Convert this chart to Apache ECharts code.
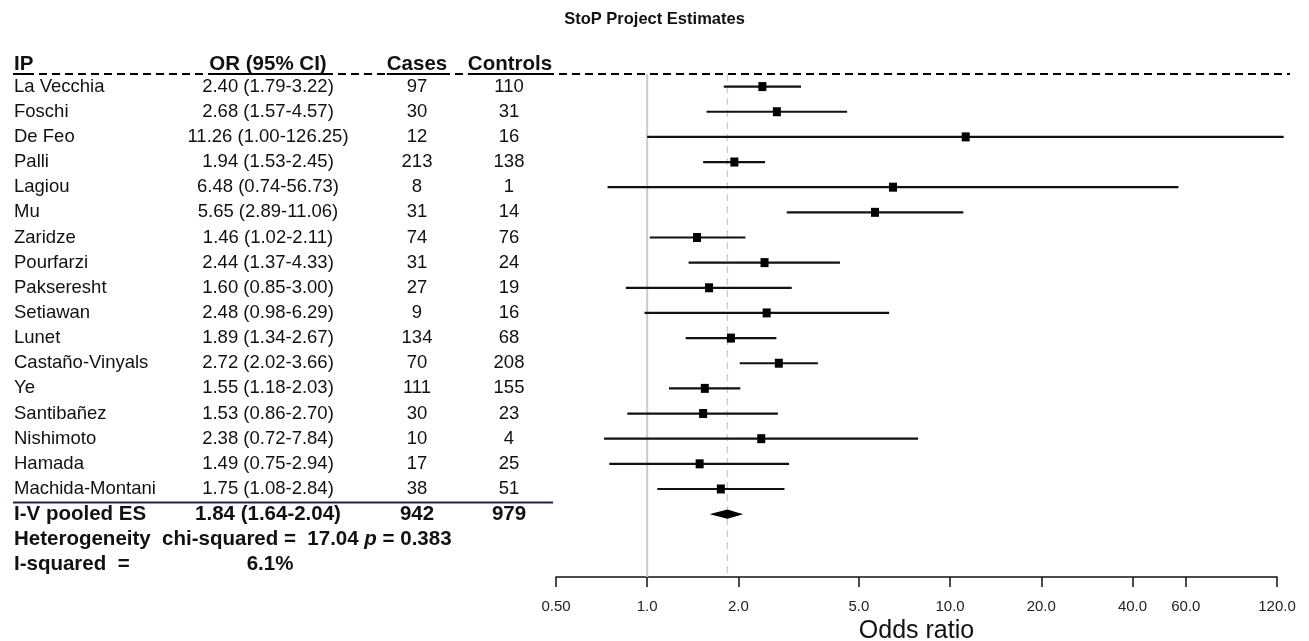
<!DOCTYPE html>
<html><head><meta charset="utf-8">
<script src="https://cdn.jsdelivr.net/npm/echarts@6/dist/echarts.min.js"></script>
<style>html,body{margin:0;padding:0;background:#fff}#c{width:1309px;height:641px}</style>
</head><body><div id="c"></div>
<script>
// ---------- data ----------
const studies = ['La Vecchia','Foschi','De Feo','Palli','Lagiou','Mu','Zaridze','Pourfarzi','Pakseresht','Setiawan','Lunet','Castaño-Vinyals','Ye','Santibañez','Nishimoto','Hamada','Machida-Montani'];
const orValues = [2.40,2.68,11.26,1.94,6.48,5.65,1.46,2.44,1.60,2.48,1.89,2.72,1.55,1.53,2.38,1.49,1.75];
const ciLower  = [1.79,1.57,1.00,1.53,0.74,2.89,1.02,1.37,0.85,0.98,1.34,2.02,1.18,0.86,0.72,0.75,1.08];
const ciUpper  = [3.22,4.57,126.25,2.45,56.73,11.06,2.11,4.33,3.00,6.29,2.67,3.66,2.03,2.70,7.84,2.94,2.84];
const cases    = [97,30,12,213,8,31,74,31,27,9,134,70,111,30,10,17,38];
const controls = [110,31,16,138,1,14,76,24,19,16,68,208,155,23,4,25,51];
const pooledOR = 1.84, pooledLower = 1.64, pooledUpper = 2.04;
const pooledCases = 942, pooledControls = 979;
const chiSquared = 17.04, pValue = 0.383, iSquared = 6.1;
const tickValues = [0.5,1,2,5,10,20,40,60,120];
const tickLabels = ['0.50','1.0','2.0','5.0','10.0','20.0','40.0','60.0','120.0'];
const headers = ['IP','OR (95% CI)','Cases','Controls'];

// ---------- style ----------
const FONT = "'Liberation Sans', Arial, Helvetica, sans-serif";
const REG = 18.5, BOLD = 20.5, INK = '#111';
const COL_IP = 14, COL_OR = 268, COL_CASES = 417, COL_CTRL = 509;

const fmt2 = v => v.toFixed(2);
const orText = (o,l,h) => `${fmt2(o)} (${fmt2(l)}-${fmt2(h)})`;

const chart = echarts.init(document.getElementById('c'));

const ciData = studies.map((s,i)=>[orValues[i], i, ciLower[i], ciUpper[i]]);
const pooledRow = studies.length;           // 17
const tableRows = [];
for (let r = 0; r < studies.length + 3; r++) tableRows.push([1, r]);

function txt(text, x, y, opt) {
  return {type:'text', style:Object.assign({
    text, x, y, fill:INK, fontFamily:FONT, fontSize:REG, fontWeight:'normal',
    align:'left', verticalAlign:'middle'
  }, opt||{})};
}

function measure(text, size, weight) {
  const c = document.createElement('canvas').getContext('2d');
  c.font = `${weight} ${size}px ${FONT}`;
  return c.measureText(text).width;
}

const headerX = [COL_IP, COL_OR, 417, 510];
const headerAlign = ['left','center','center','center'];
const graphics = [
  {type:'line', shape:{x1:13,y1:74,x2:1290,y2:74}, style:{stroke:'#000', lineWidth:2, lineDash:[8,5]}, z:10},
  {type:'line', shape:{x1:13,y1:502.5,x2:553,y2:502.5}, style:{stroke:'#20204e', lineWidth:2}, z:10}
];
headers.forEach((h,k)=>{
  graphics.push({type:'text', z:10, style:{text:h, x:headerX[k], y:64, fill:INK, fontFamily:FONT,
    fontSize:BOLD, fontWeight:'bold', align:headerAlign[k], verticalAlign:'middle'}});
  const w = measure(h, BOLD, 'bold');
  const x0 = headerAlign[k]==='left' ? headerX[k] : headerX[k]-w/2;
  graphics.push({type:'line', z:10, shape:{x1:x0,y1:74,x2:x0+w,y2:74}, style:{stroke:'#000', lineWidth:2}});
});

const option = {
  animation:false,
  backgroundColor:'#fff',
  title:{text:'StoP Project Estimates', left:'center', top:11, padding:0,
    textStyle:{fontSize:16.5, fontWeight:'bold', fontFamily:FONT, color:INK}},
  grid:{left:556, right:32, top:74, bottom:64, containLabel:false, outerBoundsMode:'none'},
  xAxis:{
    type:'log', logBase:10, min:0.5, max:120,
    axisLine:{show:true, onZero:false, lineStyle:{color:'#111', width:1.5}},
    axisTick:{show:true, length:10, inside:false, customValues:tickValues, lineStyle:{color:'#111', width:1.5}},
    axisLabel:{customValues:tickValues, margin:22, fontSize:15, color:'#222', fontFamily:FONT,
      formatter:v=>{const k=tickValues.findIndex(t=>Math.abs(t-v)<1e-6*t); return k>=0?tickLabels[k]:'';}},
    splitLine:{show:false}, minorTick:{show:false},
    name:'Odds ratio', nameLocation:'middle', nameGap:42,
    nameTextStyle:{fontSize:25, color:INK, fontFamily:FONT}
  },
  yAxis:{type:'value', inverse:true, min:-0.5, max:19.5, show:false},
  graphic:graphics,
  series:[
    { // reference lines: null (1.0) and pooled estimate
      type:'custom', z:1, silent:true, data:[[1,0]],
      renderItem:(params, api)=>{
        const a = api.coord([1,-0.5]), b = api.coord([1,19.5]);
        const c = api.coord([pooledOR,-0.5]), d = api.coord([pooledOR,19.5]);
        return {type:'group', children:[
          {type:'line', shape:{x1:a[0],y1:a[1],x2:b[0],y2:b[1]}, style:{stroke:'#cbcbcb', lineWidth:2}},
          {type:'line', shape:{x1:c[0],y1:c[1],x2:d[0],y2:d[1]}, style:{stroke:'#cfcfcf', lineWidth:1.5, lineDash:[7,5]}}
        ]};
      }
    },
    { // study CIs and point estimates
      type:'custom', z:3, clip:false, silent:true, data:ciData,
      renderItem:(params, api)=>{
        const row = api.value(1);
        const p = api.coord([api.value(0), row]);
        const a = api.coord([api.value(2), row]);
        const b = api.coord([api.value(3), row]);
        return {type:'group', children:[
          {type:'line', shape:{x1:a[0],y1:p[1],x2:b[0],y2:p[1]}, style:{stroke:'#111', lineWidth:2.2}},
          {type:'rect', shape:{x:p[0]-4,y:p[1]-4.5,width:8,height:9}, style:{fill:'#000'}}
        ]};
      }
    },
    { // pooled diamond
      type:'custom', z:3, clip:false, silent:true, data:[[pooledOR, pooledRow, pooledLower, pooledUpper]],
      renderItem:(params, api)=>{
        const row = api.value(1);
        const p = api.coord([api.value(0), row]);
        const a = api.coord([api.value(2), row]);
        const b = api.coord([api.value(3), row]);
        return {type:'polygon', shape:{points:[[a[0],p[1]],[p[0],p[1]-4],[b[0],p[1]],[p[0],p[1]+4]]},
          style:{fill:'#000', stroke:'#000', lineWidth:1.2}};
      }
    },
    { // table text
      type:'custom', z:5, clip:false, silent:true, data:tableRows,
      renderItem:(params, api)=>{
        const r = api.value(1);
        const y = api.coord([1, r])[1];
        const n = studies.length;
        if (r < n) {
          return {type:'group', children:[
            txt(studies[r], COL_IP, y),
            txt(orText(orValues[r], ciLower[r], ciUpper[r]), COL_OR, y, {align:'center'}),
            txt(String(cases[r]), COL_CASES, y, {align:'center'}),
            txt(String(controls[r]), COL_CTRL, y, {align:'center'})
          ]};
        }
        const B = {fontSize:BOLD, fontWeight:'bold'};
        if (r === n) {
          return {type:'group', children:[
            txt('I-V pooled ES', COL_IP, y, B),
            txt(orText(pooledOR, pooledLower, pooledUpper), COL_OR, y, Object.assign({align:'center'}, B)),
            txt(String(pooledCases), COL_CASES, y, Object.assign({align:'center'}, B)),
            txt(String(pooledControls), COL_CTRL, y, Object.assign({align:'center'}, B))
          ]};
        }
        if (r === n+1) {
          return txt(`Heterogeneity  chi-squared =  ${chiSquared.toFixed(2)} {i|p} = ${pValue.toFixed(3)}`, COL_IP, y,
            Object.assign({rich:{i:{fontStyle:'italic', fontWeight:'bold', fontSize:BOLD, fontFamily:FONT, fill:INK}}}, B));
        }
        return {type:'group', children:[
          txt('I-squared  =', COL_IP, y, B),
          txt(`${iSquared.toFixed(1)}%`, COL_OR+2, y, Object.assign({align:'center'}, B))
        ]};
      }
    }
  ]
};
chart.setOption(option);
</script>
</body></html>
